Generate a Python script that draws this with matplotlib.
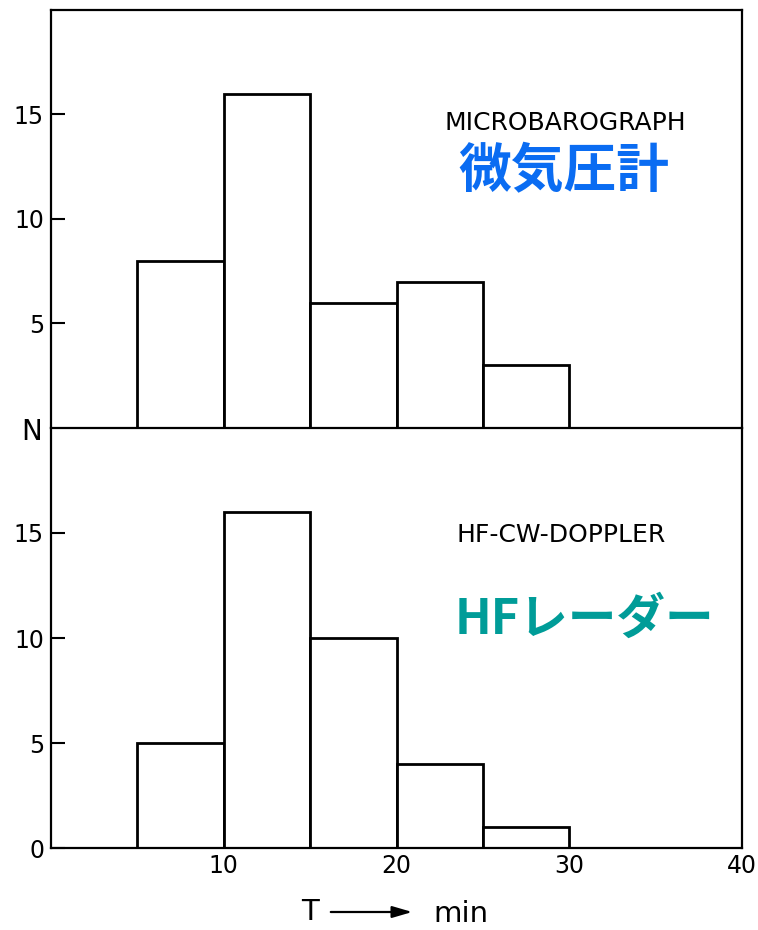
import matplotlib
matplotlib.use("Agg")
import matplotlib.pyplot as plt

plt.rcParams['font.family'] = ['DejaVu Sans', 'Noto Sans CJK JP']

bin_left = [5, 10, 15, 20, 25]
bin_width = 5
micro_counts = [8, 16, 6, 7, 3]
hf_counts = [5, 16, 10, 4, 1]
x_ticks = [10, 20, 30, 40]

W, H = 758, 930
fig = plt.figure(figsize=(W / 100, H / 100), dpi=100)

L = 51 / W
Wd = (742 - 51) / W
ax_top = fig.add_axes([L, (H - 428) / H, Wd, (428 - 10) / H])
ax_bot = fig.add_axes([L, (H - 848) / H, Wd, (848 - 428) / H])

for ax, counts in ((ax_top, micro_counts), (ax_bot, hf_counts)):
    ax.bar(bin_left, counts, width=bin_width, align='edge', color='white',
           edgecolor='black', linewidth=2)
    ax.set_xlim(0, 40)
    ax.set_ylim(0, 20)
    for s in ax.spines.values():
        s.set_linewidth(1.6)
    ax.tick_params(axis='y', direction='in', length=10, width=1.5,
                   labelsize=17, pad=5)
    ax.tick_params(axis='x', length=0, labelsize=17, pad=4)
    ax.set_xticks(x_ticks)

ax_top.spines['bottom'].set_visible(False)
ax_top.set_yticks([5, 10, 15])
ax_top.set_xticklabels([])
ax_bot.set_yticks([0, 5, 10, 15])

fig.text(32 / W, 1 - 432 / H, 'N', fontsize=20, ha='center', va='center')

ax_top.text(0.745, 0.73, 'MICROBAROGRAPH', transform=ax_top.transAxes,
            fontsize=18, ha='center', va='center', color='black')
ax_top.text(0.742, 0.612, '微気圧計', transform=ax_top.transAxes,
            fontsize=38, fontweight='bold', ha='center', va='center',
            color='#0a6cf2', family=['Noto Sans CJK JP'])
ax_bot.text(0.738, 0.745, 'HF-CW-DOPPLER', transform=ax_bot.transAxes,
            fontsize=18, ha='center', va='center', color='black')
ax_bot.text(0.772, 0.545, 'HFレーダー', transform=ax_bot.transAxes,
            fontsize=35, fontweight='bold', ha='center', va='center',
            color='#009c98', family=['Noto Sans CJK JP'])

fig.text(310 / W, 1 - 912 / H, 'T', fontsize=21, ha='center', va='center')
fig.text(461 / W, 1 - 914 / H, 'min', fontsize=21, ha='center', va='center')
fig.add_artist(matplotlib.patches.FancyArrowPatch(
    (328 / W, 1 - 912 / H), (415 / W, 1 - 912 / H), transform=fig.transFigure,
    arrowstyle='-|>,head_length=12,head_width=3.5', color='black', linewidth=1.6,
    mutation_scale=1))

fig.savefig('out.png', dpi=100, facecolor='white')
